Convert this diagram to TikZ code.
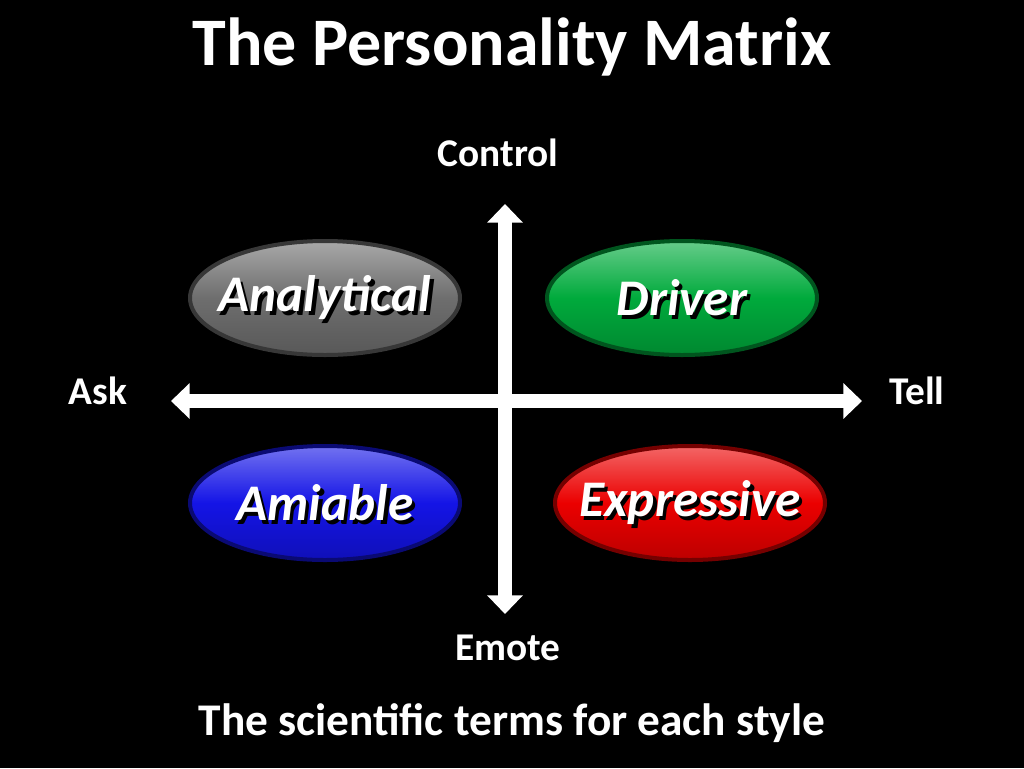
\documentclass[tikz,border=0pt]{standalone}
\usepackage{fontspec}
\setmainfont{Carlito}
\usetikzlibrary{arrows.meta,shapes.geometric}
\begin{document}
\begin{tikzpicture}[x=0.75pt,y=-0.75pt,
  txt/.style={text=white,font=\bfseries\fontsize{29.5}{34}\selectfont},
  pill/.style={ellipse,minimum width=270*0.75pt,minimum height=114*0.75pt,draw=#1!50!black,line width=3pt,
     top color=#1!60!white,bottom color=#1!80!black,middle color=#1},
  lab/.style={text=white,font=\bfseries\itshape\fontsize{38.5}{42}\selectfont},
  ax/.style={white,line width=10.5pt,-{Triangle[length=14pt,width=26pt]}}]
\useasboundingbox[fill=black] (0,0) rectangle (1024,768);
\node[text=white,font=\bfseries\fontsize{51}{56}\selectfont] (title) at (512,47) {The Personality Matrix};
\node[txt] (ctl) at (498,153) {Control};
\node[txt] (emo) at (508,648) {Emote};
\node[txt] (ask) at (98,391) {Ask};
\node[txt] (tell) at (917,391) {Tell};
\node[text=white,font=\bfseries\fontsize{34}{38}\selectfont] (sub) at (512,723) {The scientific terms for each style};
\coordinate (vt) at (505,204); \coordinate (vb) at (505,614);
\coordinate (hl) at (171,401); \coordinate (hr) at (862,401);
\coordinate (c) at (505,401);
\draw[ax] (c) -- (vt); \draw[ax] (c) -- (vb);
\draw[ax] (c) -- (hl); \draw[ax] (c) -- (hr);
\definecolor{gA}{RGB}{110,110,110}
\definecolor{gD}{RGB}{0,170,60}
\definecolor{gB}{RGB}{20,20,230}
\definecolor{gR}{RGB}{235,0,0}
\node[pill=gA] (an) at (325,298) {};
\node[pill=gD] (dr) at (682,298) {};
\node[pill=gB] (am) at (325,503) {};
\node[pill=gR] (ex) at (690,503) {};
\foreach \n/\t in {an/Analytical,dr/Driver,am/Amiable,ex/Expressive}{
  \node[lab,text=black] at ([xshift=2.5pt,yshift=-2.5pt]\n.center) {\t};
  \node[lab] at (\n.center) {\t};}
\end{tikzpicture}
\end{document}
